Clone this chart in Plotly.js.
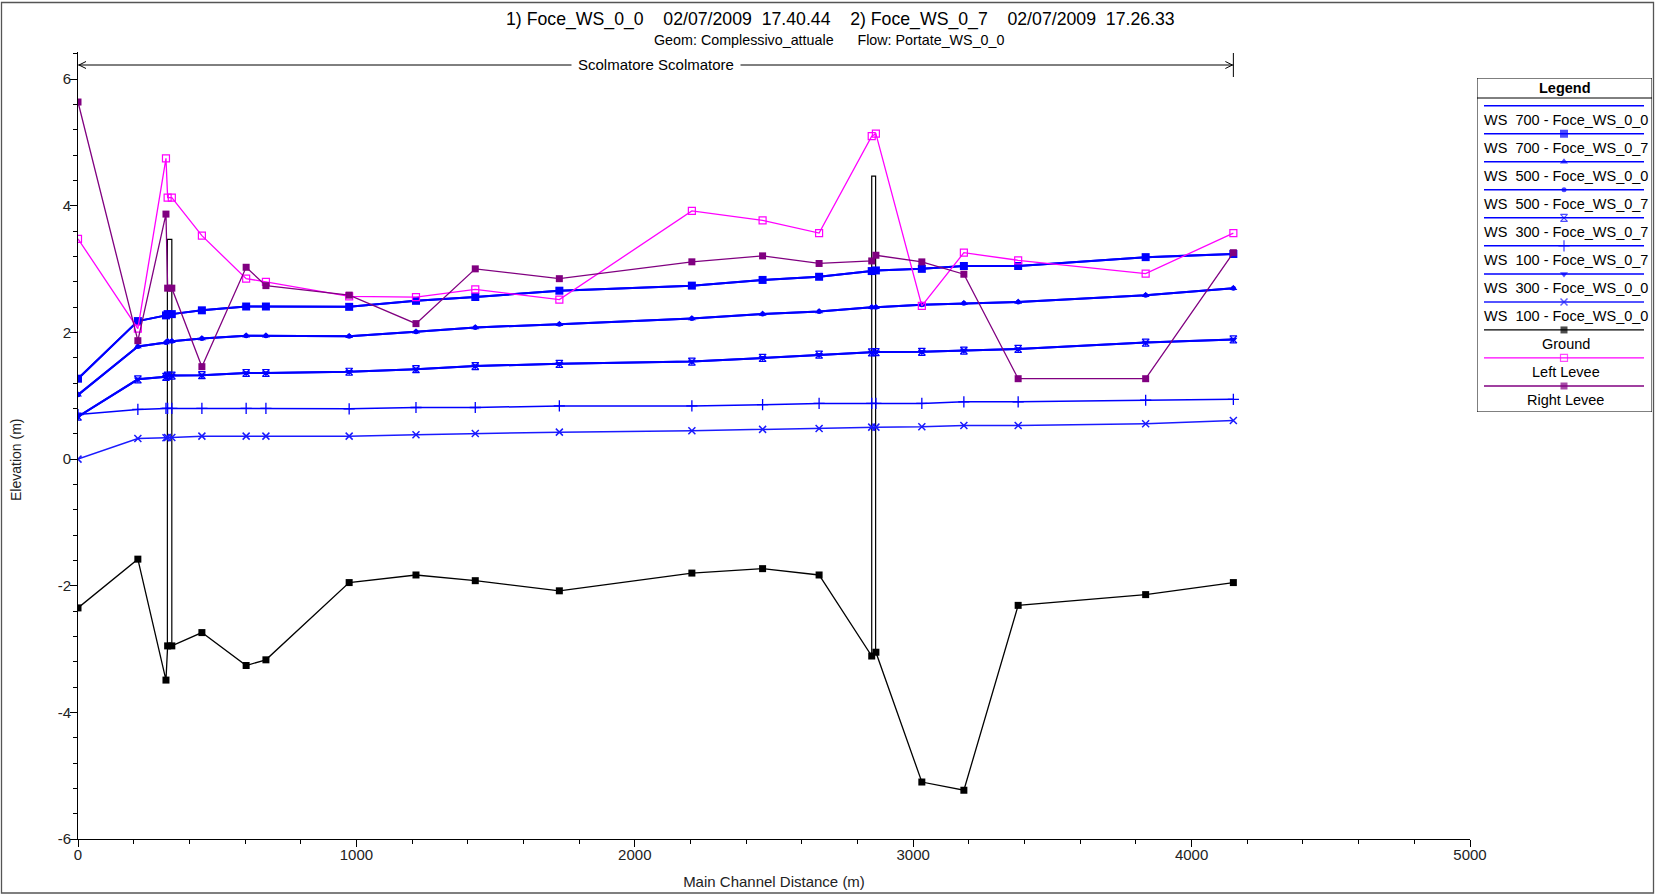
<!DOCTYPE html>
<html>
<head>
<meta charset="utf-8">
<script src="https://cdn.plot.ly/plotly-3.0.1.min.js"></script>
<style>html,body{margin:0;padding:0;background:#fff;}#chart{width:1655px;height:895px;}</style>
</head>
<body>
<div id="chart"></div>
<script>
// ---------- data ----------
const stations   = [0, 215, 316, 322, 337, 445, 604, 675, 974, 1214, 1427, 1729, 2205, 2459, 2662, 2851, 2866, 3031, 3182, 3377, 3835, 4150];
const ws700_00   = [1.27, 2.18, 2.27, 2.29, 2.29, 2.35, 2.41, 2.41, 2.405, 2.50, 2.56, 2.66, 2.74, 2.83, 2.88, 2.97, 2.98, 3.005, 3.05, 3.05, 3.19, 3.24];
const ws700_07   = [1.27, 2.18, 2.27, 2.29, 2.29, 2.35, 2.41, 2.41, 2.405, 2.50, 2.56, 2.66, 2.74, 2.83, 2.88, 2.97, 2.98, 3.005, 3.05, 3.05, 3.19, 3.24];
const ws500_00   = [1.015, 1.78, 1.84, 1.86, 1.86, 1.905, 1.95, 1.95, 1.94, 2.01, 2.08, 2.13, 2.22, 2.29, 2.33, 2.40, 2.40, 2.44, 2.46, 2.48, 2.59, 2.70];
const ws500_07   = [1.015, 1.78, 1.84, 1.86, 1.86, 1.905, 1.95, 1.95, 1.94, 2.01, 2.08, 2.13, 2.22, 2.29, 2.33, 2.40, 2.40, 2.44, 2.46, 2.48, 2.59, 2.70];
const ws300_07   = [0.67, 1.26, 1.30, 1.32, 1.32, 1.325, 1.36, 1.36, 1.38, 1.42, 1.47, 1.505, 1.54, 1.60, 1.65, 1.685, 1.69, 1.695, 1.715, 1.74, 1.84, 1.89];
const ws100_07   = [0.705, 0.785, 0.80, 0.80, 0.80, 0.80, 0.80, 0.80, 0.795, 0.815, 0.815, 0.84, 0.84, 0.86, 0.88, 0.88, 0.88, 0.88, 0.905, 0.905, 0.93, 0.945];
const ws300_00   = [0.67, 1.26, 1.30, 1.32, 1.32, 1.325, 1.36, 1.36, 1.38, 1.42, 1.47, 1.505, 1.54, 1.60, 1.65, 1.685, 1.69, 1.695, 1.715, 1.74, 1.84, 1.89];
const ws100_00   = [0.0, 0.326, 0.337, 0.34, 0.34, 0.363, 0.363, 0.363, 0.363, 0.384, 0.405, 0.426, 0.447, 0.47, 0.485, 0.505, 0.505, 0.51, 0.53, 0.53, 0.56, 0.61];
const ground     = [-2.35, -1.58, -3.49, -2.95, -2.95, -2.74, -3.26, -3.17, -1.95, -1.83, -1.92, -2.08, -1.80, -1.73, -1.83, -3.11, -3.05, -5.10, -5.23, -2.31, -2.14, -1.95];
const leftLevee  = [3.48, 2.06, 4.75, 4.13, 4.13, 3.53, 2.85, 2.80, 2.57, 2.56, 2.68, 2.52, 3.92, 3.77, 3.57, 5.10, 5.14, 2.42, 3.26, 3.14, 2.93, 3.57];
const rightLevee = [5.64, 1.87, 3.87, 2.70, 2.70, 1.46, 3.03, 2.74, 2.59, 2.14, 3.005, 2.85, 3.116, 3.21, 3.09, 3.13, 3.22, 3.115, 2.92, 1.27, 1.27, 3.26];

// bridges (structure outlines)
const bridgeLeft   = [321, 2851];
const bridgeRight  = [337, 2865];
const bridgeTop    = [3.47, 4.47];
const bridgeBottom = [-2.95, -3.08];

const seriesNames = ["WS  700 - Foce_WS_0_0", "WS  700 - Foce_WS_0_7", "WS  500 - Foce_WS_0_0", "WS  500 - Foce_WS_0_7",
                     "WS  300 - Foce_WS_0_7", "WS  100 - Foce_WS_0_7", "WS  300 - Foce_WS_0_0", "WS  100 - Foce_WS_0_0",
                     "Ground", "Left Levee", "Right Levee"];
const seriesData = [ws700_00, ws700_07, ws500_00, ws500_07, ws300_07, ws100_07, ws300_00, ws100_00, ground, leftLevee, rightLevee];

const xTickVals = [0, 1000, 2000, 3000, 4000, 5000];
const xTickText = ["0", "1000", "2000", "3000", "4000", "5000"];
const yTickVals = [-6, -4, -2, 0, 2, 4, 6];
const yTickText = ["-6", "-4", "-2", "0", "2", "4", "6"];

const NB = "\u00a0";
const titleText = "1) Foce_WS_0_0" + NB.repeat(4) + "02/07/2009" + NB.repeat(2) + "17.40.44" + NB.repeat(4) +
                  "2) Foce_WS_0_7" + NB.repeat(4) + "02/07/2009" + NB.repeat(2) + "17.26.33";
const subTitleText = "Geom: Complessivo_attuale" + NB.repeat(6) + "Flow: Portate_WS_0_0";
const reachText = "Scolmatore Scolmatore";
const xTitle = "Main Channel Distance (m)";
const yTitle = "Elevation (m)";

// ---------- styles ----------
const styles = [
  {color: "#0000ff", width: 2,   symbol: null,             size: 0, lw: 0},
  {color: "#0000ff", width: 2,   symbol: "square",         size: 8, lw: 0},
  {color: "#0000ff", width: 2,   symbol: "triangle-up",    size: 7, lw: 0},
  {color: "#0000ff", width: 2,   symbol: "circle",         size: 5, lw: 0},
  {color: "#0000ff", width: 2,   symbol: "hourglass-open", size: 7, lw: 1.2},
  {color: "#0000ff", width: 1.5, symbol: "cross-thin-open",size: 8, lw: 1.3},
  {color: "#0000ff", width: 2,   symbol: "triangle-down",  size: 7, lw: 0},
  {color: "#1a1aff", width: 1.5, symbol: "x-thin-open",    size: 7, lw: 1.5},
  {color: "#000000", width: 1.3, symbol: "square",         size: 7, lw: 0},
  {color: "#ff00ff", width: 1.3, symbol: "square-open",    size: 7, lw: 1.2},
  {color: "#800080", width: 1.3, symbol: "square",         size: 7, lw: 0}
];

const FONT = "Liberation Sans, Arial, Helvetica, sans-serif";

// ---------- geometry of the page (pixels) ----------
const W = 1655, H = 895;
const mL = 78, mR = 3, mT = 52, mB = 56;
const pw = W - mL - mR, ph = H - mT - mB;
const plotRight = 1470;
const px2paperX = p => (p - mL) / pw;
const px2paperY = p => (H - mB - p) / ph;

const traces = [];

// bridges
for (let i = 0; i < bridgeLeft.length; i++) {
  traces.push({
    x: [bridgeLeft[i], bridgeLeft[i], bridgeRight[i], bridgeRight[i]],
    y: [bridgeBottom[i], bridgeTop[i], bridgeTop[i], bridgeBottom[i]],
    mode: "lines", line: {color: "#000", width: 1.2}, hoverinfo: "skip",
    xaxis: "x", yaxis: "y", showlegend: false
  });
}

// series
seriesData.forEach((d, i) => {
  const s = styles[i];
  const t = {
    x: stations, y: d, name: seriesNames[i], xaxis: "x", yaxis: "y", showlegend: false,
    mode: s.symbol ? "lines+markers" : "lines",
    line: {color: s.color, width: s.width}
  };
  if (s.symbol) t.marker = {symbol: s.symbol, size: s.size, color: s.color, line: {color: s.color, width: s.lw}};
  traces.push(t);
});

// legend samples (on a helper axis in pixel units)
const legL = 1477, legR = 1652, legT = 78, legB = 412;
const lineY0 = 105.7, step = 28.03;
const annotations = [];
const shapes = [];
seriesNames.forEach((n, i) => {
  const s = styles[i];
  const ly = lineY0 + step * i;
  const t = {
    x: [1484, 1564, 1644], y: [ly, ly, ly], xaxis: "x2", yaxis: "y2", showlegend: false, hoverinfo: "skip",
    mode: s.symbol ? "lines+markers" : "lines",
    line: {color: s.color, width: Math.min(s.width, 1.5)}
  };
  if (s.symbol) t.marker = {symbol: s.symbol, size: [0, s.size, 0], color: s.color, line: {color: s.color, width: s.lw}};
  traces.push(t);
  annotations.push({
    xref: "x2", yref: "y2", x: (legL + legR) / 2 + 1, y: ly + 14, text: n, showarrow: false,
    font: {family: FONT, size: 14.5, color: "#000"}, xanchor: "center", yanchor: "middle"
  });
});
annotations.push({xref: "x2", yref: "y2", x: (legL + legR) / 2, y: 88, text: "<b>Legend</b>", showarrow: false,
  font: {family: FONT, size: 14.5, color: "#000"}, xanchor: "center", yanchor: "middle"});
shapes.push({type: "rect", xref: "x2", yref: "y2", x0: legL, x1: legR, y0: legT, y1: legB, line: {color: "#000", width: 1}});
shapes.push({type: "line", xref: "x2", yref: "y2", x0: legL, x1: legR, y0: 98, y1: 98, line: {color: "#000", width: 1}});

// titles
annotations.push({xref: "paper", yref: "paper", x: px2paperX(840), y: px2paperY(19), text: titleText, showarrow: false,
  font: {family: FONT, size: 17.7, color: "#000"}, xanchor: "center", yanchor: "middle"});
annotations.push({xref: "paper", yref: "paper", x: px2paperX(829), y: px2paperY(40), text: subTitleText, showarrow: false,
  font: {family: FONT, size: 14.3, color: "#000"}, xanchor: "center", yanchor: "middle"});

// y axis title
annotations.push({xref: "paper", yref: "paper", x: px2paperX(16), y: px2paperY(460), text: yTitle, showarrow: false,
  textangle: -90, font: {family: FONT, size: 14, color: "#222"}, xanchor: "center", yanchor: "middle"});

// reach indicator
const reachY = px2paperY(65);
const xs0 = stations[0], xs1 = stations[stations.length - 1];
shapes.push({type: "line", xref: "x", yref: "paper", x0: xs0, x1: xs1, y0: reachY, y1: reachY, line: {color: "#000", width: 1}});
shapes.push({type: "line", xref: "x", yref: "paper", x0: xs1, x1: xs1, y0: px2paperY(53), y1: px2paperY(77), line: {color: "#000", width: 1}});
shapes.push({type: "path", xref: "x", yref: "paper", xsizemode: "pixel", ysizemode: "pixel", xanchor: xs0, yanchor: reachY,
  path: "M 8 3.5 L 1 0 L 8 -3.5", line: {color: "#000", width: 1}});
shapes.push({type: "path", xref: "x", yref: "paper", xsizemode: "pixel", ysizemode: "pixel", xanchor: xs1, yanchor: reachY,
  path: "M -8 3.5 L -1 0 L -8 -3.5", line: {color: "#000", width: 1}});
annotations.push({xref: "x", yref: "paper", x: (xs0 + xs1) / 2, y: reachY, text: reachText, showarrow: false,
  bgcolor: "#fff", borderpad: 6, font: {family: FONT, size: 15, color: "#000"}, xanchor: "center", yanchor: "middle"});

// outer frame
shapes.push({type: "rect", xref: "paper", yref: "paper", x0: px2paperX(1.5), x1: px2paperX(1653.5), y0: px2paperY(893), y1: px2paperY(2.5),
  line: {color: "#555", width: 1.3}});

const axisCommon = {
  showgrid: false, zeroline: false, showline: true, linecolor: "#000", linewidth: 1,
  ticks: "outside", ticklen: 7, tickcolor: "#000", tickwidth: 1,
  tickfont: {family: FONT, size: 15, color: "#222"}, fixedrange: true
};

const layout = {
  width: W, height: H,
  margin: {l: mL, r: mR, t: mT, b: mB, pad: 0},
  paper_bgcolor: "#fff", plot_bgcolor: "#fff",
  showlegend: false,
  xaxis: Object.assign({}, axisCommon, {
    domain: [0, (plotRight - mL) / pw], range: [0, 5000], anchor: "y",
    tickmode: "array", tickvals: xTickVals, ticktext: xTickText, ticklabelstandoff: -5,
    minor: {dtick: 200, tick0: 0, ticks: "outside", ticklen: 4, tickcolor: "#000", showgrid: false},
    title: {text: xTitle, font: {family: FONT, size: 15, color: "#222"}, standoff: 14}
  }),
  yaxis: Object.assign({}, axisCommon, {
    domain: [0, 1], range: [-6, 6.43], anchor: "x",
    tickmode: "array", tickvals: yTickVals, ticktext: yTickText, ticklabelstandoff: -4,
    minor: {dtick: 0.4, tick0: 0, ticks: "outside", ticklen: 4, tickcolor: "#000", showgrid: false}
  }),
  xaxis2: {domain: [px2paperX(legL), px2paperX(legR)], range: [legL, legR], visible: false, anchor: "y2", fixedrange: true},
  yaxis2: {domain: [px2paperY(legB), px2paperY(legT)], range: [legB, legT], visible: false, anchor: "x2", fixedrange: true},
  annotations: annotations,
  shapes: shapes
};

Plotly.newPlot("chart", traces, layout, {displayModeBar: false, staticPlot: true});
</script>
</body>
</html>
